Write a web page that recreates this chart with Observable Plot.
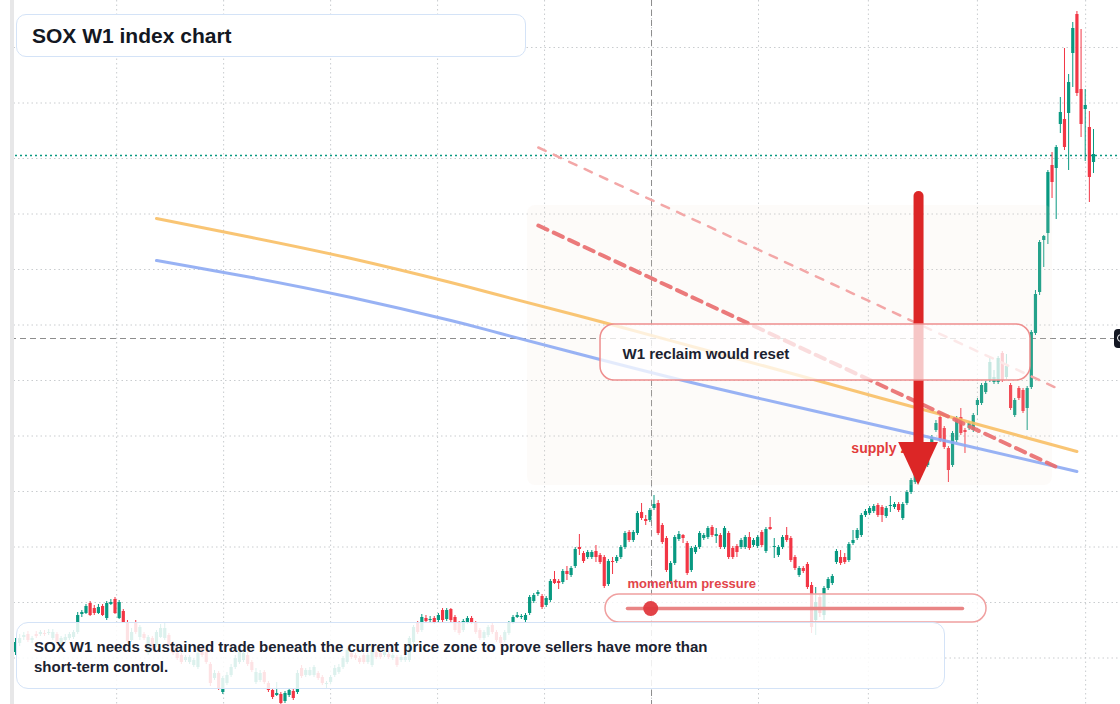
<!DOCTYPE html>
<html>
<head>
<meta charset="utf-8">
<script src="https://cdn.jsdelivr.net/npm/d3@7"></script>
<script src="https://cdn.jsdelivr.net/npm/@observablehq/plot@0.6"></script>
<style>
  html, body { margin: 0; padding: 0; background: #fff; }
  #wrap { position: relative; width: 1120px; height: 704px; overflow: hidden; background: #fff; font-family: "Liberation Sans", Arial, sans-serif; }
  #chart { position: absolute; left: 0; top: 0; }
  .edge-white { position: absolute; left: 0; top: 0; width: 10px; height: 704px; background: #fff; }
  .edge-strip { position: absolute; left: 10px; top: 0; width: 4px; height: 704px; background: #e7e7e8; }
  .title-box { position: absolute; left: 16px; top: 14px; width: 508px; height: 41px; border: 1.5px solid #d4e3f7; border-radius: 10px; background: #fff; box-sizing: content-box; }
  .title-box span { position: absolute; left: 15px; top: 50%; transform: translateY(-50%); font-weight: 700; font-size: 21px; color: #131722; white-space: nowrap; }
  .caption-box { position: absolute; left: 16px; top: 622px; width: 927px; height: 65px; border: 1.5px solid #d4e3f7; border-radius: 12px; background: rgba(255,255,255,0.86); }
  .caption-box div { position: absolute; left: 17px; top: 14px; font-weight: 700; font-size: 15px; line-height: 20px; color: #1b2230; white-space: nowrap; }
  .price-tag { position: absolute; left: 1114px; top: 329px; width: 16px; height: 19px; background: #131722; border-radius: 4px; }
  .price-tag i { position: absolute; left: 3px; top: 5px; width: 6px; height: 6px; border: 1.5px solid #fff; border-radius: 50%; }
</style>
</head>
<body>
<div id="wrap">
  <div id="chart"></div>
  <div class="edge-white"></div>
  <div class="edge-strip"></div>
  <div class="title-box"><span>SOX W1 index chart</span></div>
  <div class="caption-box"><div>SOX W1 needs sustained trade beneath the current price zone to prove sellers have more than<br>short-term control.</div></div>
  <div class="price-tag"><i></i></div>
</div>
<script>
// ---- weekly candles (index = week number) ----
const open = [
1480,1570,1630,1660,1600,1660,1660,1670,1670,1620,
1660,1570,1600,1620,1630,1680,1860,1870,1970,1920,
1870,1940,1820,1960,2010,1820,1890,1780,1600,1770,
1630,1660,1470,1620,1550,1630,1620,1650,1570,1470,
1450,1400,1380,1350,1330,1520,1480,1360,1220,1270,
1080,1170,1250,1330,1380,1400,1450,1380,1180,1200,
1280,1170,1100,1050,1060,990,1050,1090,1080,1320,
1250,1250,1250,1270,1230,1160,1180,1250,1280,1330,
1380,1470,1450,1420,1450,1380,1350,1480,1470,1450,
1460,1420,1430,1400,1400,1400,1580,1770,1700,1820,
1800,1820,1800,1900,1810,1910,1830,1770,1700,1780,
1820,1770,1700,1620,1650,1750,1680,1630,1600,1670,
1780,1830,1830,1800,1870,1990,2060,2040,1950,2000,
2210,2190,2180,2290,2250,2340,2530,2470,2430,2430,
2490,2450,2430,2160,2390,2390,2430,2530,2680,2600,
2670,2880,2810,2800,2920,2970,2750,2620,2180,2370,
2610,2650,2570,2300,2480,2530,2620,2630,2730,2640,
2650,2530,2670,2520,2540,2530,2530,2630,2550,2540,
2680,2490,2730,2530,2450,2530,2650,2620,2430,2250,
2320,2360,2150,1800,2030,1850,2120,2170,2380,2430,
2430,2400,2570,2620,2650,2850,2870,2890,2950,2930,
2840,2940,2930,2960,2820,2970,3080,3180,3260,3400,
3350,3580,3700,3830,3720,3520,3350,3600,3830,3700,
3720,3700,3950,3970,4080,4200,4180,4180,4470,4230,
4150,3850,4120,4100,3920,4130,4670,5080,5600,5670,
6350,6320,6760,6810,6870,7470,7860,7110,6910,6730,6380];
const close = [
1580,1620,1650,1600,1620,1640,1680,1660,1680,1680,
1580,1620,1630,1660,1680,1850,1880,1940,1850,1870,
1930,1850,1970,1980,1870,1980,1780,1590,1680,1680,
1730,1620,1630,1520,1680,1720,1720,1550,1470,1420,
1380,1430,1430,1400,1470,1450,1380,1170,1270,1120,
1220,1250,1330,1420,1480,1470,1360,1300,1280,1270,
1180,1100,1030,1070,970,1070,1100,1020,1270,1240,
1300,1300,1330,1220,1170,1170,1230,1320,1330,1420,
1500,1430,1420,1380,1380,1450,1500,1430,1430,1480,
1430,1450,1350,1430,1430,1620,1730,1680,1830,1790,
1810,1780,1850,1800,1900,1800,1700,1670,1790,1820,
1780,1680,1620,1680,1730,1680,1600,1570,1680,1770,
1830,1850,1840,1850,2030,2050,2080,1930,2020,2190,
2170,2170,2290,2260,2320,2510,2510,2390,2480,2480,
2430,2380,2140,2390,2380,2430,2530,2670,2600,2680,
2870,2820,2790,2900,2960,2670,2580,2300,2370,2630,
2660,2620,2270,2520,2530,2670,2650,2720,2650,2660,
2530,2720,2430,2430,2480,2600,2630,2520,2600,2630,
2550,2710,2710,2540,2530,2630,2600,2400,2320,2320,
2290,2130,1730,1980,1870,2120,2210,2240,2490,2370,
2380,2560,2600,2700,2850,2890,2920,2940,2850,2850,
2920,2950,2960,2900,2960,3080,3200,3280,3380,3350,
3500,3630,3770,3600,3530,3300,3670,3820,3670,3680,
3770,3850,4000,4150,4170,4380,4230,4420,4200,4340,
3920,4000,4020,3890,4120,4680,5060,5580,5640,6280,
6180,6530,6880,6530,7180,7720,7070,6760,6950,6230,6460];
const high = [
1620,1660,1680,1690,1640,1690,1700,1700,1710,1710,
1680,1640,1660,1680,1700,1880,1900,1960,1990,1950,
1960,1960,1990,2010,2030,2000,1910,1800,1720,1800,
1750,1680,1650,1640,1700,1760,1770,1670,1590,1490,
1470,1450,1450,1420,1500,1550,1500,1380,1300,1290,
1240,1280,1360,1450,1500,1500,1480,1400,1320,1300,
1300,1190,1120,1180,1080,1090,1120,1110,1300,1350,
1320,1330,1350,1290,1250,1190,1250,1350,1360,1440,
1520,1490,1470,1440,1470,1470,1520,1500,1490,1500,
1480,1470,1450,1450,1450,1640,1750,1790,1860,1850,
1840,1840,1870,1920,1920,1920,1850,1790,1810,1840,
1840,1790,1720,1700,1750,1770,1700,1650,1700,1790,
1850,1880,1860,1870,2050,2070,2100,2060,2040,2210,
2290,2210,2310,2340,2340,2530,2660,2490,2500,2500,
2550,2470,2450,2410,2430,2450,2550,2690,2700,2700,
2890,2970,2850,2920,3050,3000,2770,2640,2390,2650,
2690,2660,2590,2540,2550,2690,2670,2740,2750,2720,
2670,2740,2690,2540,2560,2620,2650,2680,2620,2650,
2700,2730,2830,2620,2550,2650,2730,2640,2450,2340,
2340,2380,2180,2130,2050,2140,2230,2260,2510,2500,
2470,2580,2700,2720,2870,2910,2940,2960,2970,2950,
2940,3040,2980,2980,2980,3100,3220,3300,3400,3440,
3520,3650,3800,3860,3740,3540,3690,3840,3920,3720,
3790,3870,4020,4170,4190,4420,4300,4440,4490,4460,
4170,4020,4140,4120,4140,4700,5100,5600,5650,6300,
6480,6550,7030,7520,7260,7780,7890,7710,7110,6890,6710];
const low = [
1450,1540,1600,1580,1570,1620,1640,1640,1650,1600,
1550,1550,1580,1600,1610,1660,1830,1860,1840,1850,
1860,1840,1800,1950,1860,1810,1770,1570,1580,1660,
1600,1600,1450,1500,1530,1620,1600,1530,1450,1400,
1360,1380,1360,1330,1310,1430,1360,1140,1200,1100,
1060,1150,1230,1310,1360,1380,1340,1280,1160,1180,
1160,1080,1010,1040,950,970,1030,1000,1060,1220,
1230,1240,1230,1200,1150,1120,1160,1230,1260,1310,
1360,1410,1400,1360,1360,1360,1330,1410,1410,1430,
1410,1400,1330,1380,1380,1380,1560,1660,1680,1770,
1780,1760,1780,1780,1790,1780,1680,1650,1680,1760,
1760,1660,1600,1600,1630,1660,1580,1540,1580,1650,
1760,1820,1810,1780,1850,1970,2040,1910,1930,1980,
2160,2110,2160,2200,2230,2320,2450,2370,2410,2410,
2380,2360,2120,2140,2260,2370,2410,2510,2580,2580,
2650,2800,2750,2780,2900,2650,2560,2280,2160,2350,
2590,2570,2250,2280,2460,2510,2600,2610,2630,2570,
2510,2510,2410,2410,2430,2510,2510,2500,2530,2520,
2530,2470,2700,2420,2430,2510,2580,2380,2300,2230,
2270,2110,1670,1650,1830,1800,2100,2150,2360,2350,
2360,2380,2550,2600,2630,2830,2850,2870,2830,2780,
2820,2880,2910,2880,2800,2950,3060,3160,3240,3300,
3330,3510,3680,3580,3510,3180,3330,3580,3650,3470,
3700,3680,3850,3950,4060,4180,4160,4160,4180,4210,
3900,3830,4000,3870,3700,4110,4650,5050,5330,5560,
6020,5810,6670,6500,6300,7130,7040,6630,6390,5980,6270];

// ---- overlay curves (week index, index level) ----
const maWeeks = [34, 57, 81, 105, 117, 141, 165, 189, 209, 226, 256];
const orangeMA = [5820, 5630, 5420, 5180, 5050, 4790, 4520, 4250, 4020, 3830, 3490];
const blueMA   = [5400, 5230, 5030, 4800, 4670, 4410, 4160, 3930, 3740, 3580, 3290];

// trend lines (start/end week, start/end level)
const trendWeeks = [126.1, 250.8];
const upperTrend = [6530, 4130];
const lowerTrend = [5750, 3340];

// grid: half-year boundaries (week index) and level steps
const halfYearTicks = [24.4, 50.2, 76.0, 101.8, 127.6, 153.4, 179.2, 205.7, 232.0, 258.1];
const levelTicks = [7530, 6975, 6420, 5865, 5310, 4755, 4200, 3645, 3090, 2535, 1980, 1425];

// reference levels
const crosshairWeek = 153.4;
const crosshairLevel = 4620;
const lastPriceLevel = 6450;

// annotations
const supplyZone = {x1: 123.5, x2: 250.1, y1: 3150, y2: 5950};
const resetBox = {x1: 141.1, x2: 244.8, y1: 4200, y2: 4760};
const resetLabel = {x: 146.4, y: 4460, text: "W1 reclaim would reset"};
const supplyLabel = {x: 201.6, y: 3520, text: "supply zone"};
const arrowShaft = {x: 217.8, top: 6040, bottom: 3560};
const arrowHead = [{x: 213.0, y1: 3580, y2: 3580}, {x: 217.8, y1: 3580, y2: 3150}, {x: 222.6, y1: 3580, y2: 3580}];
const momentumBox = {x1: 142.3, x2: 234.2, y1: 1780, y2: 2060};
const momentumTrack = [{x: 147.6, y: 1920}, {x: 228.4, y: 1920}];
const momentumDot = {x: 153.2, y: 1920};
const momentumLabel = {x: 147.6, y: 2170, text: "momentum pressure"};

const teal = "#089981", red = "#f23645";
const candles = close.map((c, i) => ({i, o: open[i], h: high[i], l: low[i], c, up: c >= open[i]}));
const orangeData = maWeeks.map((w, k) => ({w, v: orangeMA[k]}));
const blueData = maWeeks.map((w, k) => ({w, v: blueMA[k]}));
const upperData = trendWeeks.map((w, k) => ({w, v: upperTrend[k]}));
const lowerData = trendWeeks.map((w, k) => ({w, v: lowerTrend[k]}));

const chart = Plot.plot({
  width: 1120,
  height: 704,
  margin: 0,
  style: {background: "#fff", fontFamily: "Liberation Sans, Arial, sans-serif"},
  x: {type: "linear", domain: [-3.618, 266.51], axis: null},
  y: {type: "linear", domain: [960, 8000], axis: null},
  marks: [
    Plot.ruleY(levelTicks, {stroke: "#c9cccf", strokeWidth: 1, strokeDasharray: "1.5,3"}),
    Plot.ruleX(halfYearTicks, {stroke: "#c9cccf", strokeWidth: 1, strokeDasharray: "1.5,3"}),
    Plot.ruleX([crosshairWeek], {stroke: "#8d8d8d", strokeWidth: 1, strokeDasharray: "6,4"}),
    Plot.ruleY([crosshairLevel], {stroke: "#8d8d8d", strokeWidth: 1, strokeDasharray: "6,4"}),
    Plot.ruleY([lastPriceLevel], {stroke: teal, strokeWidth: 1.5, strokeDasharray: "2,3"}),
    // candles
    Plot.ruleX(candles, {filter: d => d.up, x: "i", y1: "l", y2: "h", stroke: teal, strokeWidth: 1}),
    Plot.ruleX(candles, {filter: d => !d.up, x: "i", y1: "l", y2: "h", stroke: red, strokeWidth: 1}),
    Plot.ruleX(candles, {filter: d => d.up, x: "i", y1: "o", y2: "c", stroke: teal, strokeWidth: 3.2}),
    Plot.ruleX(candles, {filter: d => !d.up, x: "i", y1: "o", y2: "c", stroke: red, strokeWidth: 3.2}),
    // supply zone shading
    Plot.rect([supplyZone], {x1: "x1", x2: "x2", y1: "y1", y2: "y2", fill: "#f3e2d2", fillOpacity: 0.13, rx: 8, ry: 8}),
    // moving-average style curves
    Plot.line(orangeData, {x: "w", y: "v", stroke: "#f8bf65", strokeWidth: 3, strokeOpacity: 0.9, curve: "natural"}),
    Plot.line(blueData, {x: "w", y: "v", stroke: "#8daaf3", strokeWidth: 3, strokeOpacity: 0.9, curve: "natural"}),
    // trend lines
    Plot.line(upperData, {x: "w", y: "v", stroke: "#f3a7a7", strokeWidth: 2.5, strokeDasharray: "8,9"}),
    Plot.line(lowerData, {x: "w", y: "v", stroke: "#e96b6d", strokeWidth: 4, strokeDasharray: "10,7", strokeOpacity: 0.9}),
    // supply label + arrow
    Plot.text([supplyLabel], {x: "x", y: "y", text: "text", textAnchor: "start", fontSize: 14, fontWeight: "bold", fill: "#e23b3b"}),
    Plot.ruleX([arrowShaft], {x: "x", y1: "bottom", y2: "top", stroke: "#dc2626", strokeWidth: 10, strokeLinecap: "round"}),
    Plot.areaY(arrowHead, {x: "x", y1: "y1", y2: "y2", fill: "#dc2626"}),
    // reset box
    Plot.rect([resetBox], {x1: "x1", x2: "x2", y1: "y1", y2: "y2", fill: "#fff", fillOpacity: 0.74, stroke: "#ee8e8e", strokeWidth: 1.5, rx: 14, ry: 14}),
    Plot.text([resetLabel], {x: "x", y: "y", text: "text", textAnchor: "start", fontSize: 15, fontWeight: "bold", fill: "#1b2230"}),
    // momentum pressure gauge
    Plot.rect([momentumBox], {x1: "x1", x2: "x2", y1: "y1", y2: "y2", fill: "#fff", fillOpacity: 0.78, stroke: "#f0a0a0", strokeWidth: 1.5, rx: 14, ry: 14}),
    Plot.line(momentumTrack, {x: "x", y: "y", stroke: "#e98585", strokeWidth: 3.5}),
    Plot.dot([momentumDot], {x: "x", y: "y", r: 7.5, fill: "#e0393e", fillOpacity: 0.95}),
    Plot.text([momentumLabel], {x: "x", y: "y", text: "text", textAnchor: "start", fontSize: 13, fontWeight: "bold", fill: "#e2454a"})
  ]
});
document.getElementById("chart").appendChild(chart);
</script>
</body>
</html>
